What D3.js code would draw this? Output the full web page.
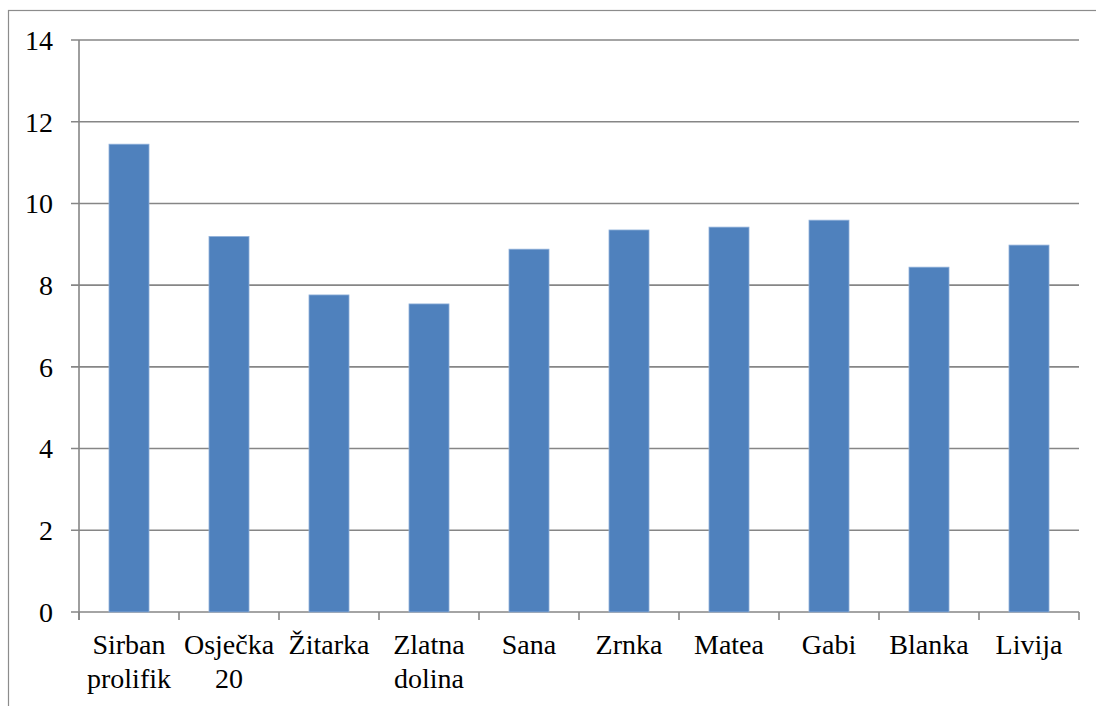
<!DOCTYPE html>
<html>
<head>
<meta charset="utf-8">
<script src="https://cdn.jsdelivr.net/npm/d3@7"></script>
<style>
  body { margin: 0; background: #fff; }
  svg { display: block; }
</style>
</head>
<body>
<div id="chart"></div>
<script>
// varieties and their values
const Categories = [
    ["Sirban", "prolifik"],
    ["Osječka", "20"],
    ["Žitarka"],
    ["Zlatna", "dolina"],
    ["Sana"],
    ["Zrnka"],
    ["Matea"],
    ["Gabi"],
    ["Blanka"],
    ["Livija"],
];
const Values = [11.45, 9.19, 7.76, 7.54, 8.88, 9.35, 9.42, 9.59, 8.44, 8.98];
const YTicks = [0, 2, 4, 6, 8, 10, 12, 14];

const width = 1096;
const height = 706;
const margin = { left: 79, right: 17, top: 40, bottom: 94 };

const gridColor = "#868686";
const barColor = "#4f81bd";
const fontFamily = "'Liberation Serif'";

const svg = d3.select("#chart").append("svg")
    .attr("width", width)
    .attr("height", height);

// outer frame (runs off the right and bottom edges)
svg.append("rect")
    .attr("x", 8.5).attr("y", 10.5)
    .attr("width", width + 20).attr("height", height + 20)
    .attr("fill", "none")
    .attr("stroke", "#8c8c8c")
    .attr("stroke-width", 1.2);

const x = d3.scaleBand()
    .domain(d3.range(Categories.length))
    .range([margin.left, width - margin.right])
    .paddingInner(0.6)
    .paddingOuter(0.3);

const y = d3.scaleLinear()
    .domain([0, 14])
    .range([height - margin.bottom, margin.top]);

const step = x.step();
const x0 = margin.left;
const x1 = width - margin.right;

// horizontal gridlines + left ticks
svg.append("g")
    .selectAll("line")
    .data(YTicks)
    .enter().append("line")
        .attr("x1", x0 - 8)
        .attr("x2", x1)
        .attr("y1", d => y(d))
        .attr("y2", d => y(d))
        .attr("stroke", gridColor)
        .attr("stroke-width", 1.6);

// y labels
svg.append("g")
    .selectAll("text")
    .data(YTicks)
    .enter().append("text")
        .attr("x", 53)
        .attr("y", d => y(d))
        .attr("dy", "0.35em")
        .attr("text-anchor", "end")
        .style("font-family", fontFamily)
        .style("font-size", "28px")
        .attr("fill", "#000")
        .text(d => d);

// bars
svg.append("g")
    .selectAll("rect")
    .data(Values)
    .enter().append("rect")
        .attr("x", (d, i) => x(i))
        .attr("y", d => y(d))
        .attr("width", x.bandwidth())
        .attr("height", d => y(0) - y(d))
        .attr("fill", barColor)
        .attr("stroke", "#8fb0d9")
        .attr("stroke-width", 0.8);

// y axis line
svg.append("line")
    .attr("x1", x0).attr("x2", x0)
    .attr("y1", y(14)).attr("y2", y(0) + 8)
    .attr("stroke", gridColor)
    .attr("stroke-width", 1.6);

// category ticks at band edges
svg.append("g")
    .selectAll("line")
    .data(d3.range(Categories.length + 1))
    .enter().append("line")
        .attr("x1", i => x0 + i * step)
        .attr("x2", i => x0 + i * step)
        .attr("y1", y(0))
        .attr("y2", y(0) + 8)
        .attr("stroke", gridColor)
        .attr("stroke-width", 1.6);

// category labels
const labels = svg.append("g")
    .selectAll("text")
    .data(Categories)
    .enter().append("text")
        .attr("x", (d, i) => x(i) + x.bandwidth() / 2)
        .attr("y", 654)
        .attr("text-anchor", "middle")
        .style("font-family", fontFamily)
        .style("font-size", "28px")
        .attr("fill", "#000");

labels.selectAll("tspan")
    .data(d => d)
    .enter().append("tspan")
        .attr("x", function() { return this.parentNode.getAttribute("x"); })
        .attr("dy", (d, i) => i === 0 ? 0 : 34)
        .text(d => d);
</script>
</body>
</html>
